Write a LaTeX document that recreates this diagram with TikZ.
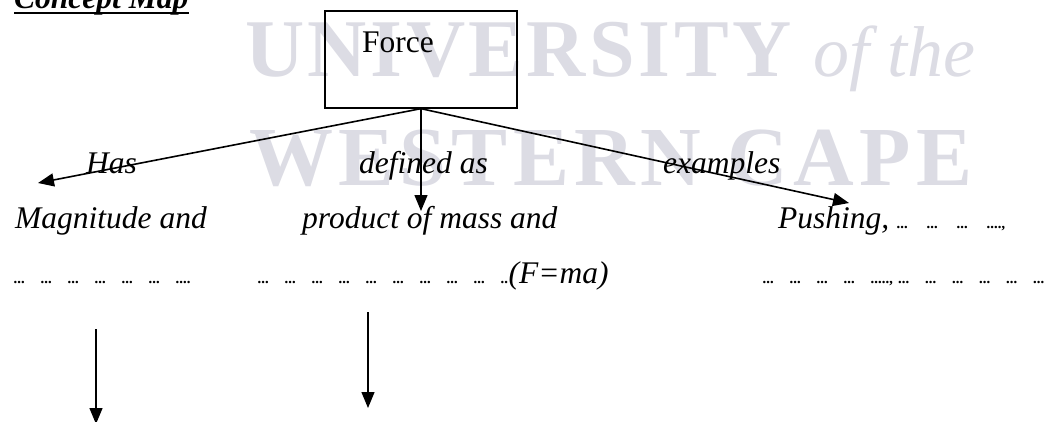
\documentclass[tikz,border=0pt]{standalone}
\usepackage{fontspec}
\setmainfont{Liberation Serif}
\newfontfamily\wmA[LetterSpace=4.3]{Liberation Serif}
\newfontfamily\wmB[LetterSpace=6.4]{Liberation Serif}
\usetikzlibrary{arrows.meta}
\definecolor{wm}{RGB}{220,220,228}
\newcommand\dotfnt{\fontsize{15}{15}\selectfont\bfseries}
\newcommand\grp{\makebox[27pt][l]{\dotfnt ...}}
\newcommand\grpw{\makebox[30pt][l]{\dotfnt ...}}
\newcommand\bigfnt{\fontsize{31.5}{36}\selectfont}
\tikzset{
  lbl/.style={font=\bigfnt\itshape, inner sep=0pt, anchor=base west},
  wmk/.style={text=wm, inner sep=0pt, anchor=base west},
  arr/.style={-{Triangle[length=16pt,width=13pt]}, line width=1.6pt},
  varr/.style={-{Triangle[length=16pt,width=13pt]}, line width=1.3pt},
}
\begin{document}
\begin{tikzpicture}[x=1pt,y=-1pt]
\path[use as bounding box] (0,0) rectangle (1060,421);
\clip (0,0) rectangle (1060,421);
% watermark
\node[wmk, font=\wmA\bfseries\fontsize{82}{90}\selectfont] (wm1) at (245,76) {UNIVERSITY};
\node[wmk, font=\itshape\fontsize{72}{80}\selectfont] (wm2) at (813,76) {of the};
\node[wmk, font=\wmB\bfseries\fontsize{84}{90}\selectfont] (wm3) at (249,185) {WESTERN CAPE};
% title
\node[font=\bigfnt\bfseries\itshape, inner sep=0pt, anchor=base west] (title) at (14,8) {Concept Map};
\draw[line width=2pt] ([yshift=-5pt]title.base west) -- ([yshift=-5pt]title.base east);
% central box
\node[draw, line width=1.3pt, minimum width=192pt, minimum height=97pt, inner sep=0pt] (force) at (421,59.5) {};
\node[font=\bigfnt, inner sep=0pt, anchor=base west] (forcetxt) at (362,52) {Force};
% link labels
\node[lbl] (has) at (86,173) {Has};
\node[lbl] (def) at (359,173) {defined as};
\node[lbl] (ex) at (663,173) {examples};
% concept texts
\node[lbl] (mag) at (15,228) {Magnitude and};
\node[lbl] (prod) at (302,228) {product of mass and};
\node[lbl] (push) at (778,228) {Pushing, \grpw\grpw\grpw{\dotfnt ....,}};
\node[lbl] (mag2) at (14,283) {\grp\grp\grp\grp\grp\grp{\dotfnt ....}};
\node[lbl] (prod2) at (258,283) {\grp\grp\grp\grp\grp\grp\grp\grp\grp{\dotfnt ..}(F=ma)};
\node[lbl] (push2) at (763,283) {\grp\grp\grp\grp{\dotfnt .....,}\hspace{5pt}\grp\grp\grp\grp\grp\grp};
% arrow ends
\coordinate (tipL) at (38,183);
\coordinate (tipM) at (421,211);
\coordinate (tipR) at (849,203);
\coordinate (lowLs) at (96,329);
\coordinate (lowLe) at (96,424);
\coordinate (lowMs) at (368,312);
\coordinate (lowMe) at (368,408);
% arrows
\draw[arr] (force.south) -- (tipL);
\draw[varr] (force.south) -- (tipM);
\draw[arr] (force.south) -- (tipR);
\draw[varr] (lowLs) -- (lowLe);
\draw[varr] (lowMs) -- (lowMe);
\end{tikzpicture}
\end{document}
